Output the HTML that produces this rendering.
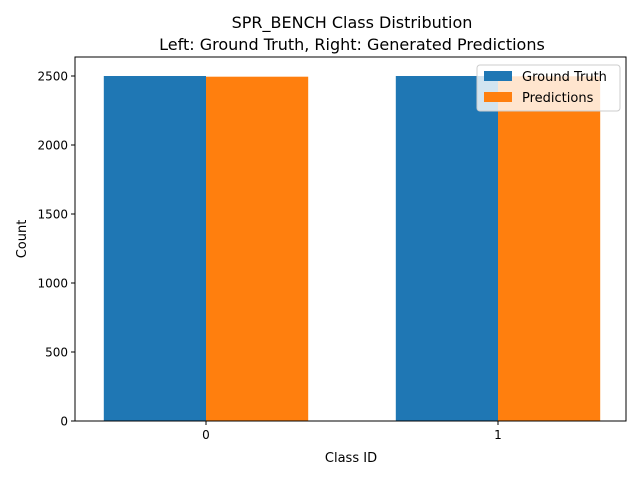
<!DOCTYPE html>
<html><head><meta charset="utf-8"><style>
body{margin:0;background:#fff;font-family:"Liberation Sans","DejaVu Sans",sans-serif}
</style></head><body>
<svg id="c" width="640" height="480" xmlns="http://www.w3.org/2000/svg" font-family="DejaVu Sans, Liberation Sans, sans-serif">
<text x="352" y="28" text-anchor="middle" font-size="16">SPR_BENCH Class Distribution</text>
<text x="352" y="50" text-anchor="middle" font-size="16">Left: Ground Truth, Right: Generated Predictions</text>
<g id="bars"></g>
<rect x="75" y="57" width="551" height="364" fill="none" stroke="#000" stroke-width="1"/>
<g id="yt"></g><g id="xt"></g>
<text x="351" y="462" text-anchor="middle" font-size="13">Class ID</text>
<text transform="translate(26,239) rotate(-90)" text-anchor="middle" font-size="13">Count</text>
<g>
<rect x="477" y="65" width="143" height="46" rx="3" fill="#fff" fill-opacity="0.8" stroke="#ccc"/>
<rect x="484" y="71" width="28" height="10" fill="#1f77b4"/>
<text x="522" y="81" font-size="13">Ground Truth</text>
<rect x="484" y="92" width="28" height="10" fill="#ff7f0e"/>
<text x="522" y="102" font-size="13">Predictions</text>
</g>
</svg>
<script>
const categories=["0","1"];
const groundTruth=[2500,2500];
const predictions=[2495,2498];
const yTicks=[0,500,1000,1500,2000,2500];
const NS="http://www.w3.org/2000/svg";
const y=v=>421-v*(345/2500);
const x=v=>206+v*292;
const bw=0.35*292;
const bars=document.getElementById('bars');
function mk(tag,attrs,parent){const e=document.createElementNS(NS,tag);for(const k in attrs)e.setAttribute(k,attrs[k]);parent.appendChild(e);return e;}
categories.forEach((c,i)=>{
 let r=mk('rect',{x:x(i)-bw,y:y(groundTruth[i]),width:bw,height:421-y(groundTruth[i]),fill:'#1f77b4'},bars);
 
 
 let p=mk('rect',{x:x(i),y:y(predictions[i]),width:bw,height:421-y(predictions[i]),fill:'#ff7f0e'},bars);
 
 
 const xt=document.getElementById('xt');
 mk('line',{x1:x(i),x2:x(i),y1:421,y2:425,stroke:'#000'},xt);
 let t=mk('text',{x:x(i),y:439,'text-anchor':'middle','font-size':12},xt);t.textContent=c;
 
 
});
const yt=document.getElementById('yt');
yTicks.forEach(v=>{
 mk('line',{x1:71,x2:75,y1:y(v),y2:y(v),stroke:'#000'},yt);
 let t=mk('text',{x:68,y:y(v)+4.5,'text-anchor':'end','font-size':12},yt);t.textContent=v;
 
 
});
</script>
</body></html>
